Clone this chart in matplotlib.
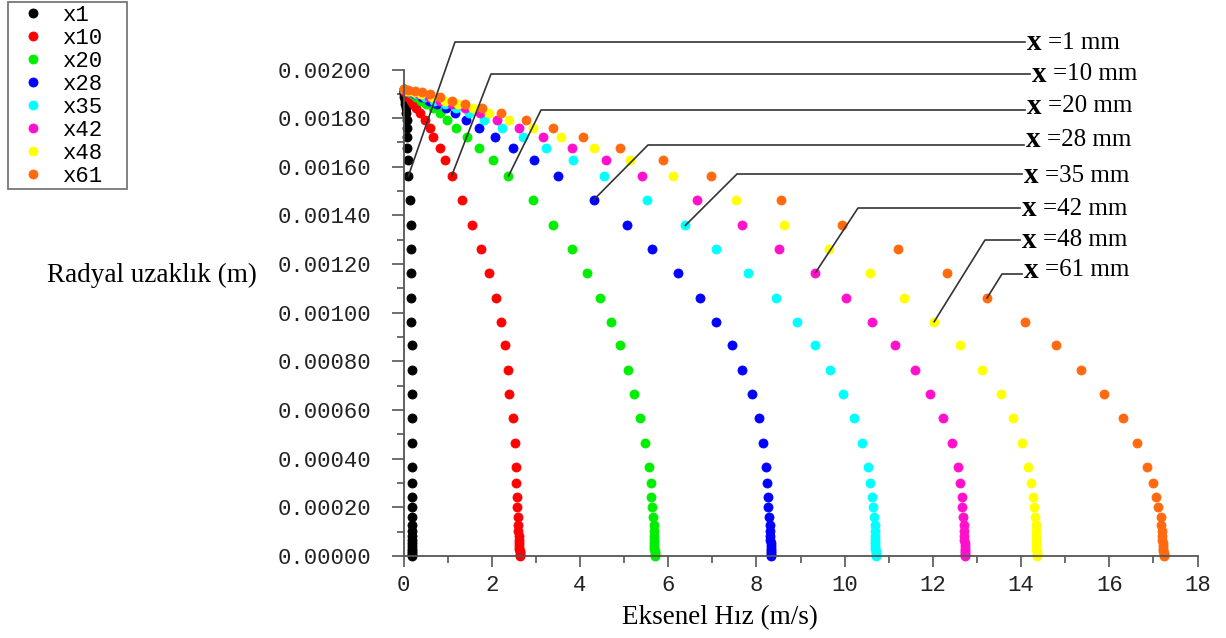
import numpy as np
import matplotlib.pyplot as plt

# radial node positions (1e-6 m), the same for every station
radius_um = [1918, 1915, 1911, 1906, 1898, 1885, 1871, 1857, 1841, 1820,
             1793, 1758, 1724, 1676, 1628, 1562, 1464, 1359, 1262, 1165,
             1061, 963, 866, 764, 665, 566, 464, 364, 302, 244,
             200, 161, 128, 104, 84, 67, 52, 40, 30, 21,
             13, 6, 0]

# axial velocity (m/s) at each node
u_x1 = [0.0, 0.0, 0.0, 0.0, 0.01, 0.02, 0.03, 0.04, 0.05, 0.06,
        0.07, 0.08, 0.09, 0.09, 0.10, 0.11, 0.14, 0.16, 0.17, 0.18,
        0.18, 0.18, 0.19, 0.19, 0.19, 0.19, 0.19, 0.19, 0.19, 0.19,
        0.19, 0.19, 0.19, 0.19, 0.19, 0.19, 0.19, 0.19, 0.19, 0.19,
        0.19, 0.19, 0.19]
u_x10 = [0.0, 0.0, 0.01, 0.04, 0.07, 0.11, 0.16, 0.22, 0.29, 0.38,
         0.48, 0.59, 0.68, 0.82, 0.94, 1.09, 1.33, 1.55, 1.76, 1.94,
         2.09, 2.21, 2.30, 2.36, 2.40, 2.48, 2.53, 2.55, 2.56, 2.57,
         2.58, 2.59, 2.60, 2.60, 2.61, 2.61, 2.62, 2.62, 2.62, 2.63,
         2.63, 2.63, 2.63]
u_x20 = [0.0, 0.0, 0.05, 0.11, 0.19, 0.29, 0.40, 0.52, 0.66, 0.82,
         0.98, 1.18, 1.43, 1.72, 2.03, 2.38, 2.94, 3.40, 3.81, 4.16,
         4.46, 4.71, 4.91, 5.09, 5.23, 5.37, 5.48, 5.57, 5.60, 5.62,
         5.64, 5.66, 5.67, 5.67, 5.68, 5.68, 5.69, 5.69, 5.69, 5.70,
         5.70, 5.70, 5.70]
u_x28 = [0.0, 0.02, 0.07, 0.14, 0.26, 0.41, 0.58, 0.76, 0.96, 1.17,
         1.42, 1.72, 2.08, 2.49, 2.96, 3.51, 4.31, 5.07, 5.64, 6.23,
         6.72, 7.09, 7.44, 7.68, 7.91, 8.05, 8.14, 8.21, 8.24, 8.26,
         8.27, 8.29, 8.30, 8.30, 8.31, 8.31, 8.32, 8.32, 8.32, 8.33,
         8.33, 8.33, 8.33]
u_x35 = [0.0, 0.03, 0.08, 0.16, 0.29, 0.48, 0.70, 0.94, 1.20, 1.49,
         1.83, 2.23, 2.72, 3.23, 3.85, 4.54, 5.52, 6.39, 7.09, 7.82,
         8.44, 8.92, 9.32, 9.66, 9.96, 10.21, 10.40, 10.53, 10.58, 10.62,
         10.65, 10.67, 10.68, 10.68, 10.69, 10.69, 10.70, 10.70, 10.70, 10.71,
         10.71, 10.71, 10.71]
u_x42 = [0.0, 0.04, 0.09, 0.20, 0.36, 0.57, 0.83, 1.10, 1.40, 1.74,
         2.13, 2.61, 3.16, 3.81, 4.58, 5.41, 6.66, 7.67, 8.52, 9.34,
         10.03, 10.62, 11.15, 11.59, 11.94, 12.23, 12.43, 12.56, 12.61, 12.65,
         12.67, 12.69, 12.70, 12.70, 12.71, 12.71, 12.72, 12.72, 12.72, 12.73,
         12.73, 12.73, 12.73]
u_x48 = [0.0, 0.05, 0.11, 0.23, 0.40, 0.64, 0.93, 1.24, 1.57, 1.94,
         2.40, 2.94, 3.58, 4.32, 5.14, 6.11, 7.53, 8.62, 9.64, 10.57,
         11.34, 12.03, 12.61, 13.12, 13.54, 13.82, 14.02, 14.16, 14.23, 14.27,
         14.30, 14.32, 14.33, 14.33, 14.34, 14.34, 14.35, 14.35, 14.35, 14.36,
         14.36, 14.36, 14.36]
u_x61 = [0.0, 0.10, 0.26, 0.41, 0.60, 0.83, 1.09, 1.40, 1.78, 2.22,
         2.77, 3.40, 4.08, 4.91, 5.88, 6.97, 8.56, 9.94, 11.20, 12.31,
         13.23, 14.08, 14.79, 15.37, 15.88, 16.30, 16.62, 16.86, 16.98, 17.07,
         17.10, 17.17, 17.18, 17.19, 17.20, 17.20, 17.21, 17.21, 17.22, 17.22,
         17.23, 17.23, 17.23]

series_names = ["x1", "x10", "x20", "x28", "x35", "x42", "x48", "x61"]
series_vals = [u_x1, u_x10, u_x20, u_x28, u_x35, u_x42, u_x48, u_x61]
colors = ["#000000", "#ff0000", "#00ee00", "#0000ff",
          "#00ffff", "#ff10cc", "#ffff00", "#ff6a10"]

# station labels and the node each leader line points at
station_labels = ["1 mm", "10 mm", "20 mm", "28 mm", "35 mm", "42 mm", "48 mm", "61 mm"]
leader_node = [15, 15, 15, 16, 17, 19, 21, 20]
# leader elbow and label position, figure pixels from the top-left corner
elbow_px = [(455, 42), (491, 74), (541, 110), (648, 145),
            (737, 174), (858, 208), (985, 240), (1002, 274)]
line_end_px = [1025, 1030, 1025, 1024, 1022, 1020, 1020, 1022]
text_y_px = [43, 74, 106, 140, 176, 209, 240, 270]

W, H = 1226, 638
radius = np.array(radius_um) * 1e-6

fig = plt.figure(figsize=(W / 100, H / 100), dpi=100)
ax = fig.add_axes([403.5 / W, 1 - 556 / H, (1197.5 - 403.5) / W, (556 - 69.5) / H])

for name, vals, c in zip(series_names, series_vals, colors):
    ax.plot(vals, radius, linestyle="none", marker="o", ms=6.5,
            mfc=c, mec=c, mew=0.6, label=name, clip_on=False)

ax.set_xlim(0, 18)
ax.set_ylim(0, 0.002)
ax.set_xticks(np.arange(0, 19, 2))
ax.set_xticks(np.arange(1, 18, 2), minor=True)
ax.set_yticks(np.arange(0, 0.00201, 0.0002))
ax.set_yticks(np.arange(0.0001, 0.002, 0.0002), minor=True)
ax.set_yticklabels(["%.5f" % v for v in np.arange(0, 0.00201, 0.0002)])
ax.set_xticklabels([str(v) for v in range(0, 19, 2)])

for s in ["top", "right"]:
    ax.spines[s].set_visible(False)
for s in ["left", "bottom"]:
    ax.spines[s].set_color("#555555")
    ax.spines[s].set_linewidth(1.3)

mono = {"family": "Liberation Mono", "size": 16, "color": "#222222"}
ax.tick_params(axis="both", which="both", direction="out", color="#555555", width=1.2)
ax.tick_params(axis="y", which="major", length=9, pad=14)
ax.tick_params(axis="y", which="minor", length=5)
ax.tick_params(axis="x", which="major", length=8, pad=6)
ax.tick_params(axis="x", which="minor", length=5)
for lab in ax.get_xticklabels() + ax.get_yticklabels():
    lab.set_fontfamily(mono["family"])
    lab.set_fontsize(mono["size"])
    lab.set_color(mono["color"])

serif = "Liberation Serif"
fig.text(47 / W, 1 - 275 / H, "Radyal uzaklık (m)", family=serif, size=19.5,
         ha="left", va="center")
fig.text(720 / W, 1 - 618 / H, "Eksenel Hız (m/s)", family=serif, size=19.5,
         ha="center", va="center")

# leader lines from each label down to its profile
to_data = ax.transData.inverted()


def px2data(xp, yp):
    return to_data.transform((xp, H - yp))


for i, lab in enumerate(station_labels):
    vals = series_vals[i]
    k = leader_node[i]
    ex, ey = px2data(*elbow_px[i])
    hx, _ = px2data(line_end_px[i], elbow_px[i][1])
    ax.plot([vals[k], ex, hx], [radius[k], ey, ey], color="#333333",
            lw=1.2, clip_on=False, zorder=5)
    tx, ty = px2data(line_end_px[i] + 2, text_y_px[i])
    ax.text(tx, ty, "x", family=serif, weight="bold", size=21,
            ha="left", va="center")
    tx2, _ = px2data(line_end_px[i] + 23, text_y_px[i])
    ax.text(tx2, ty, "=" + lab, family=serif, size=18, ha="left", va="center")

leg = fig.legend(loc="upper left", bbox_to_anchor=(8 / W, 1 - 186 / H, 119 / W, 184 / H),
                 mode="expand", prop={"family": "Liberation Mono", "size": 16},
                 frameon=True, fancybox=False, edgecolor="#555555",
                 borderaxespad=0, handlelength=2.0, handletextpad=0.35,
                 labelspacing=0.09, borderpad=0.12, markerscale=1.0)
leg.get_frame().set_linewidth(1.3)

fig.savefig("out.png", dpi=100)
